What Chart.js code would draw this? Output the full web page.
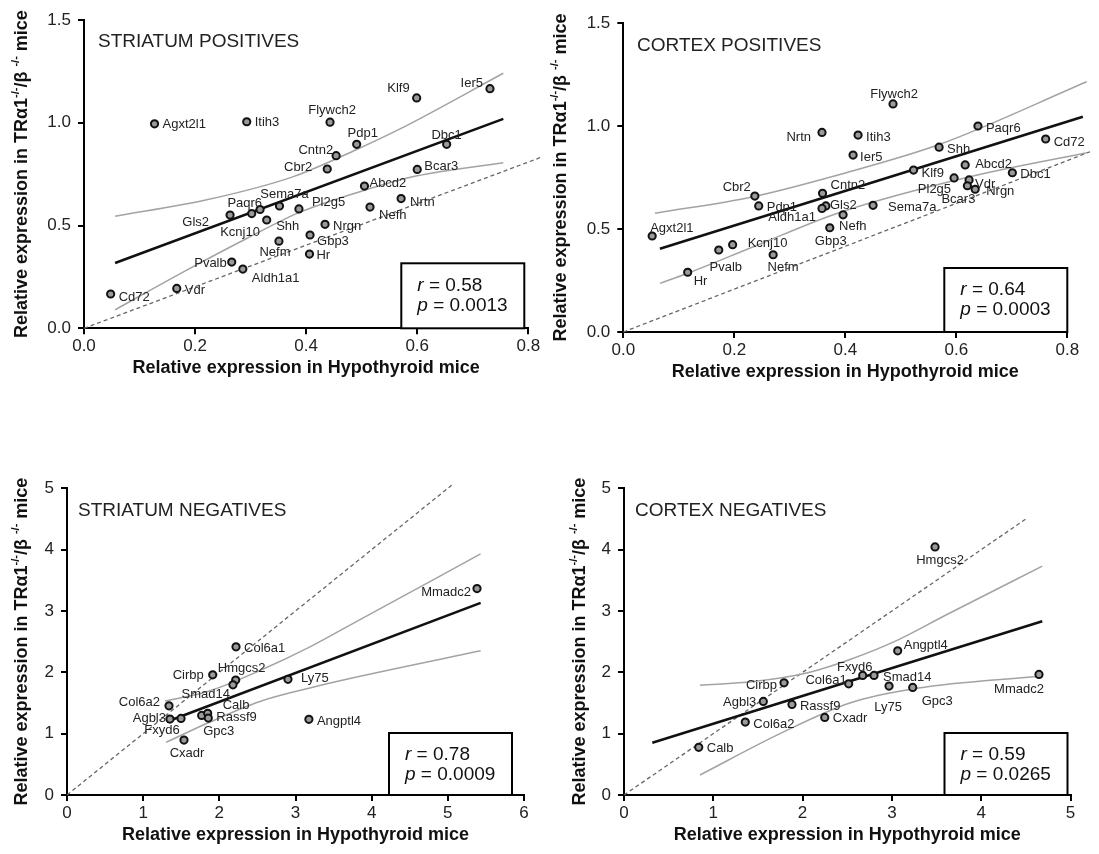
<!DOCTYPE html>
<html>
<head>
<meta charset="utf-8">
<script src="https://cdn.jsdelivr.net/npm/chart.js@4.4.1/dist/chart.umd.min.js"></script>
<style>
  body { margin: 0; background: #fff; }
  #wrap { position: relative; width: 1099px; height: 854px; }
  canvas { position: absolute; left: 0; top: 0; }
</style>
</head>
<body>
<div id="wrap">
  <canvas id="c1" width="1099" height="854"></canvas>
  <canvas id="c2" width="1099" height="854"></canvas>
  <canvas id="c3" width="1099" height="854"></canvas>
  <canvas id="c4" width="1099" height="854"></canvas>
</div>
<script>
// ---- Striatum positives
const stPosGenes = ['Agxt2l1','Itih3','Flywch2','Klf9','Ier5','Pdp1','Dbc1','Cntn2','Cbr2','Bcar3','Abcd2','Nrtn','Nefh','Pl2g5',
  'Sema7a','Kcnj10','Paqr6','Gls2','Shh','Nrgn','Gbp3','Nefm','Hr','Pvalb','Aldh1a1','Vdr','Cd72'];
const stPosX = [0.127,0.293,0.443,0.599,0.731,0.491,0.653,0.454,0.438,0.600,0.505,0.571,0.515,0.387,
  0.352,0.317,0.302,0.263,0.329,0.434,0.407,0.351,0.406,0.266,0.286,0.167,0.048];
const stPosY = [0.995,1.005,1.003,1.121,1.166,0.895,0.895,0.840,0.775,0.773,0.692,0.631,0.590,0.581,
  0.595,0.578,0.558,0.551,0.527,0.506,0.454,0.424,0.361,0.322,0.288,0.194,0.167];
const stPosFitX = [0.056, 0.755];
const stPosFitY = [0.318, 1.019];
const stPosUpX = [0.056, 0.221, 0.377, 0.491, 0.569, 0.755];
const stPosUpY = [0.545, 0.625, 0.738, 0.870, 0.970, 1.241];
const stPosLoX = [0.056, 0.185, 0.293, 0.389, 0.509, 0.600, 0.755];
const stPosLoY = [0.090, 0.283, 0.437, 0.565, 0.675, 0.742, 0.806];
const stPosIdX = [0, 0.821];
const stPosIdY = [0, 0.830];
const stPosXTicks = [0, 0.2, 0.4, 0.6, 0.8];
const stPosYTicks = [0, 0.5, 1.0, 1.5];
const stPosStats = ['0.58', '0.0013'];

// ---- Cortex positives
const cxPosGenes = ['Nrtn','Cbr2','Pdp1','Cntn2','Gls2','Aldh1a1','Nefh','Gbp3','Agxt2l1','Kcnj10','Pvalb','Hr','Nefm','Flywch2',
  'Itih3','Ier5','Paqr6','Shh','Cd72','Klf9','Abcd2','Dbc1','Pl2g5','Vdr','Bcar3','Nrgn','Sema7a'];
const cxPosX = [0.358,0.237,0.244,0.359,0.365,0.358,0.396,0.372,0.052,0.197,0.172,0.116,0.270,0.486,
  0.423,0.414,0.639,0.569,0.761,0.523,0.616,0.701,0.596,0.623,0.620,0.634,0.450];
const cxPosY = [0.969,0.660,0.612,0.673,0.612,0.600,0.569,0.506,0.466,0.424,0.398,0.290,0.375,1.107,
  0.956,0.859,1.000,0.897,0.937,0.786,0.811,0.773,0.748,0.738,0.710,0.693,0.615];
const cxPosFitX = [0.066, 0.828];
const cxPosFitY = [0.404, 1.045];
const cxPosUpX = [0.057, 0.234, 0.390, 0.569, 0.835];
const cxPosUpY = [0.576, 0.657, 0.765, 0.910, 1.215];
const cxPosLoX = [0.066, 0.116, 0.240, 0.390, 0.630, 0.835];
const cxPosLoY = [0.236, 0.285, 0.420, 0.580, 0.757, 0.870];
const cxPosIdX = [0, 0.841];
const cxPosIdY = [0, 0.875];
const cxPosXTicks = [0, 0.2, 0.4, 0.6, 0.8];
const cxPosYTicks = [0, 0.5, 1.0, 1.5];
const cxPosStats = ['0.64', '0.0003'];

// ---- Striatum negatives
const stNegGenes = ['Col6a1','Cirbp','Hmgcs2','Smad14','Col6a2','Agbl3','Fxyd6','Gpc3','Calb','Rassf9','Cxadr','Ly75','Angptl4','Mmadc2'];
const stNegX = [2.219,1.913,2.215,2.179,1.339,1.352,1.497,1.768,1.847,1.855,1.536,2.901,3.176,5.383];
const stNegY = [2.415,1.959,1.873,1.796,1.454,1.238,1.249,1.298,1.331,1.254,0.896,1.886,1.233,3.366];
const stNegFitX = [1.309, 5.431];
const stNegFitY = [1.194, 3.132];
const stNegUpX = [1.287, 1.877, 2.534, 3.190, 3.847, 5.430];
const stNegUpY = [1.531, 1.700, 2.030, 2.415, 2.860, 3.930];
const stNegLoX = [1.301, 1.877, 2.534, 3.190, 3.847, 5.431];
const stNegLoY = [0.858, 1.190, 1.525, 1.745, 1.935, 2.350];
const stNegIdX = [0, 5.05];
const stNegIdY = [0, 5.05];
const stNegXTicks = [0, 1, 2, 3, 4, 5, 6];
const stNegYTicks = [0, 1, 2, 3, 4, 5];
const stNegStats = ['0.78', '0.0009'];

// ---- Cortex negatives
const cxNegGenes = ['Calb','Col6a2','Agbl3','Cirbp','Rassf9','Col6a1','Cxadr','Hmgcs2','Angptl4','Fxyd6','Smad14','Ly75','Gpc3','Mmadc2'];
const cxNegX = [0.837,1.358,1.560,1.792,1.881,2.516,2.248,3.483,3.065,2.673,2.800,2.968,3.233,4.647];
const cxNegY = [0.777,1.189,1.526,1.829,1.477,1.813,1.265,4.044,2.350,1.949,1.949,1.775,1.754,1.966];
const cxNegFitX = [0.317, 4.684];
const cxNegFitY = [0.852, 2.834];
const cxNegUpX = [0.851, 1.448, 2.046, 2.531, 3.070, 3.600, 4.684];
const cxNegUpY = [1.790, 1.850, 1.990, 2.210, 2.530, 2.930, 3.730];
const cxNegLoX = [0.851, 1.747, 2.530, 3.280, 4.684];
const cxNegLoY = [0.326, 1.000, 1.500, 1.740, 1.940];
const cxNegIdX = [0, 4.5];
const cxNegIdY = [0, 4.5];
const cxNegXTicks = [0, 1, 2, 3, 4, 5];
const cxNegYTicks = [0, 1, 2, 3, 4, 5];
const cxNegStats = ['0.59', '0.0265'];

// label placement [dx, dy, align] per gene, same order as the gene lists
const stPosLabelPos = [[8,1,'l'],[8,1,'l'],[2,-12,'c'],[-7,-9,'r'],[-7,-5,'r'],[6,-11,'c'],[0,-9,'c'],[-3,-5,'r'],[-15,-2,'r'],
  [7,-3,'l'],[5,-3,'l'],[9,4,'l'],[9,8,'l'],[13,-6,'l'],[5,-12,'c'],[-20,23,'c'],[-7,-10,'c'],[-21,7,'r'],[21,6,'c'],
  [8,2,'l'],[7,6,'l'],[-4,11,'c'],[7,1,'l'],[-5,1,'r'],[9,9,'l'],[8,2,'l'],[8,3,'l']];
const cxPosLabelPos = [[-11,5,'r'],[-4,-9,'r'],[8,1,'l'],[8,-8,'l'],[4,-1,'l'],[-6,9,'r'],[-4,12,'l'],[1,14,'c'],[-2,-8,'l'],
  [15,-1,'l'],[7,17,'c'],[6,9,'l'],[10,13,'c'],[1,-10,'c'],[8,2,'l'],[7,2,'l'],[8,2,'l'],[8,2,'l'],[8,3,'l'],[8,3,'l'],
  [10,-1,'l'],[8,2,'l'],[-3,12,'r'],[6,4,'l'],[-9,14,'c'],[11,2,'l'],[15,2,'l']];
const stNegLabelPos = [[8,2,'l'],[-9,1,'r'],[6,-12,'c'],[-3,10,'r'],[-9,-3,'r'],[-4,-1,'r'],[-19,12,'c'],[17,16,'c'],
  [15,-8,'l'],[8,-1,'l'],[3,13,'c'],[13,-1,'l'],[8,2,'l'],[-6,4,'r']];
const cxNegLabelPos = [[8,1,'l'],[8,2,'l'],[-7,1,'r'],[-7,3,'r'],[8,2,'l'],[-2,-3,'r'],[8,1,'l'],[5,13,'c'],[6,-5,'l'],
  [-8,-8,'c'],[9,2,'l'],[-1,21,'c'],[9,14,'l'],[-20,15,'c']];

const FONT = "'Liberation Sans', Arial, Helvetica, sans-serif";
const W = 1099, H = 854, YW = 50, XH = 40;

function pts(xs, ys) { return xs.map((x, i) => ({ x: x, y: ys[i] })); }

// draws gene labels, panel title, stats box and axis titles
const decor = {
  id: 'decor',
  afterDatasetsDraw(chart, args, o) {
    const ctx = chart.ctx, a = chart.chartArea;
    ctx.save();
    const meta = chart.getDatasetMeta(0);
    ctx.font = '13px ' + FONT;
    ctx.fillStyle = '#222';
    ctx.textBaseline = 'middle';
    o.genes.forEach((g, i) => {
      const p = meta.data[i], lp = o.labelPos[i];
      ctx.textAlign = { l: 'left', r: 'right', c: 'center' }[lp[2]];
      ctx.fillText(g, p.x + lp[0], p.y + lp[1]);
    });

    ctx.textAlign = 'left';
    ctx.font = '19px ' + FONT;
    ctx.fillText(o.title, o.titlePos[0], o.titlePos[1]);

    // r / p box
    const bw = 123, bh = o.boxH;
    const bx = a.right - o.boxRight - bw, by = a.bottom - bh;
    ctx.fillStyle = '#fff';
    ctx.fillRect(bx, by, bw, bh);
    ctx.lineWidth = 2;
    ctx.strokeStyle = '#000';
    ctx.strokeRect(bx, by, bw, bh);
    ctx.fillStyle = '#111';
    [['r', o.stats[0], 22], ['p', o.stats[1], 42]].forEach(s => {
      ctx.font = 'italic 19px ' + FONT;
      ctx.fillText(s[0], bx + 16, by + s[2]);
      const w = ctx.measureText(s[0]).width;
      ctx.font = '19px ' + FONT;
      ctx.fillText(' = ' + s[1], bx + 16 + w, by + s[2]);
    });

    // x title
    ctx.font = 'bold 18px ' + FONT;
    ctx.textAlign = 'center';
    ctx.fillStyle = '#111';
    ctx.fillText('Relative expression in Hypothyroid mice', (a.left + a.right) / 2, a.bottom + 40);

    // y title with superscripts
    const segs = [['Relative expression in TR\u03b11', 0], ['-/-', 1], ['/\u03b2 ', 0], ['-/-', 1], [' mice', 0]];
    const fBase = 'bold 18px ' + FONT, fSup = 'bold 11px ' + FONT;
    let total = 0;
    segs.forEach(s => { ctx.font = s[1] ? fSup : fBase; total += ctx.measureText(s[0]).width; });
    ctx.translate(o.yTitleX, (a.top + a.bottom) / 2);
    ctx.rotate(-Math.PI / 2);
    ctx.textAlign = 'left';
    let cx = -total / 2;
    segs.forEach(s => {
      ctx.font = s[1] ? fSup : fBase;
      ctx.fillText(s[0], cx, s[1] ? -6 : 0);
      cx += ctx.measureText(s[0]).width;
    });
    ctx.restore();
  }
};

function axis(ticks, dec, min, max, isY) {
  return {
    type: 'linear', min: min, max: max,
    afterBuildTicks: s => { s.ticks = ticks.map(v => ({ value: v })); },
    afterFit: s => { if (isY) s.width = YW; else s.height = XH; },
    grid: { display: true, drawOnChartArea: false, drawTicks: true, tickLength: 6, color: '#000', lineWidth: 2 },
    border: { display: true, color: '#000', width: 2 },
    ticks: { color: '#222', font: { size: 17, family: FONT }, padding: isY ? 7 : 2,
      callback: v => Number(v).toFixed(dec) }
  };
}

function makePanel(id, p) {
  const line = (xs, ys, color, width, dash, smooth) => ({
    data: pts(xs, ys), showLine: true, pointRadius: 0, borderColor: color, borderWidth: width,
    borderDash: dash, clip: false, tension: smooth ? 0.4 : 0,
    cubicInterpolationMode: smooth ? 'monotone' : 'default'
  });
  new Chart(document.getElementById(id), {
    type: 'scatter',
    data: {
      datasets: [
        { data: pts(p.xs, p.ys), pointRadius: 3.6, pointBorderWidth: 2, pointBackgroundColor: '#9a9a9a',
          pointBorderColor: '#111', clip: false },
        line(p.fitX, p.fitY, '#111', 2.6, [], false),
        line(p.upX, p.upY, '#a3a3a3', 1.5, [], true),
        line(p.loX, p.loY, '#a3a3a3', 1.5, [], true),
        line(p.idX, p.idY, '#666', 1.3, [4, 3], false)
      ]
    },
    options: {
      responsive: false, animation: false, events: [],
      layout: { padding: { left: p.area[0] - YW, top: p.area[1], right: W - p.area[2], bottom: H - p.area[3] - XH } },
      scales: {
        x: axis(p.xTicks, p.dec, p.xTicks[0], p.xTicks[p.xTicks.length - 1], false),
        y: axis(p.yTicks, p.dec, p.yTicks[0], p.yTicks[p.yTicks.length - 1], true)
      },
      plugins: {
        legend: { display: false }, tooltip: { enabled: false },
        decor: { genes: p.genes, labelPos: p.labelPos, title: p.title, titlePos: p.titlePos,
          stats: p.stats, boxRight: p.boxRight, boxH: p.boxH, yTitleX: p.yTitleX }
      }
    },
    plugins: [decor]
  });
}

makePanel('c1', { genes: stPosGenes, xs: stPosX, ys: stPosY, fitX: stPosFitX, fitY: stPosFitY,
  upX: stPosUpX, upY: stPosUpY, loX: stPosLoX, loY: stPosLoY, idX: stPosIdX, idY: stPosIdY,
  xTicks: stPosXTicks, yTicks: stPosYTicks, dec: 1, area: [84, 20, 528.3, 328.3], labelPos: stPosLabelPos,
  title: 'STRIATUM POSITIVES', titlePos: [98, 42], stats: stPosStats, boxRight: 4, boxH: 65, yTitleX: 22 });

makePanel('c2', { genes: cxPosGenes, xs: cxPosX, ys: cxPosY, fitX: cxPosFitX, fitY: cxPosFitY,
  upX: cxPosUpX, upY: cxPosUpY, loX: cxPosLoX, loY: cxPosLoY, idX: cxPosIdX, idY: cxPosIdY,
  xTicks: cxPosXTicks, yTicks: cxPosYTicks, dec: 1, area: [623.3, 23, 1067.3, 332], labelPos: cxPosLabelPos,
  title: 'CORTEX POSITIVES', titlePos: [637, 46], stats: cxPosStats, boxRight: 0, boxH: 64, yTitleX: 561 });

makePanel('c3', { genes: stNegGenes, xs: stNegX, ys: stNegY, fitX: stNegFitX, fitY: stNegFitY,
  upX: stNegUpX, upY: stNegUpY, loX: stNegLoX, loY: stNegLoY, idX: stNegIdX, idY: stNegIdY,
  xTicks: stNegXTicks, yTicks: stNegYTicks, dec: 0, area: [67, 488.3, 524, 795], labelPos: stNegLabelPos,
  title: 'STRIATUM NEGATIVES', titlePos: [78, 511], stats: stNegStats, boxRight: 12, boxH: 62, yTitleX: 22 });

makePanel('c4', { genes: cxNegGenes, xs: cxNegX, ys: cxNegY, fitX: cxNegFitX, fitY: cxNegFitY,
  upX: cxNegUpX, upY: cxNegUpY, loX: cxNegLoX, loY: cxNegLoY, idX: cxNegIdX, idY: cxNegIdY,
  xTicks: cxNegXTicks, yTicks: cxNegYTicks, dec: 0, area: [624, 488.3, 1070.5, 795], labelPos: cxNegLabelPos,
  title: 'CORTEX NEGATIVES', titlePos: [635, 511], stats: cxNegStats, boxRight: 3, boxH: 62, yTitleX: 580 });
</script>
</body>
</html>
